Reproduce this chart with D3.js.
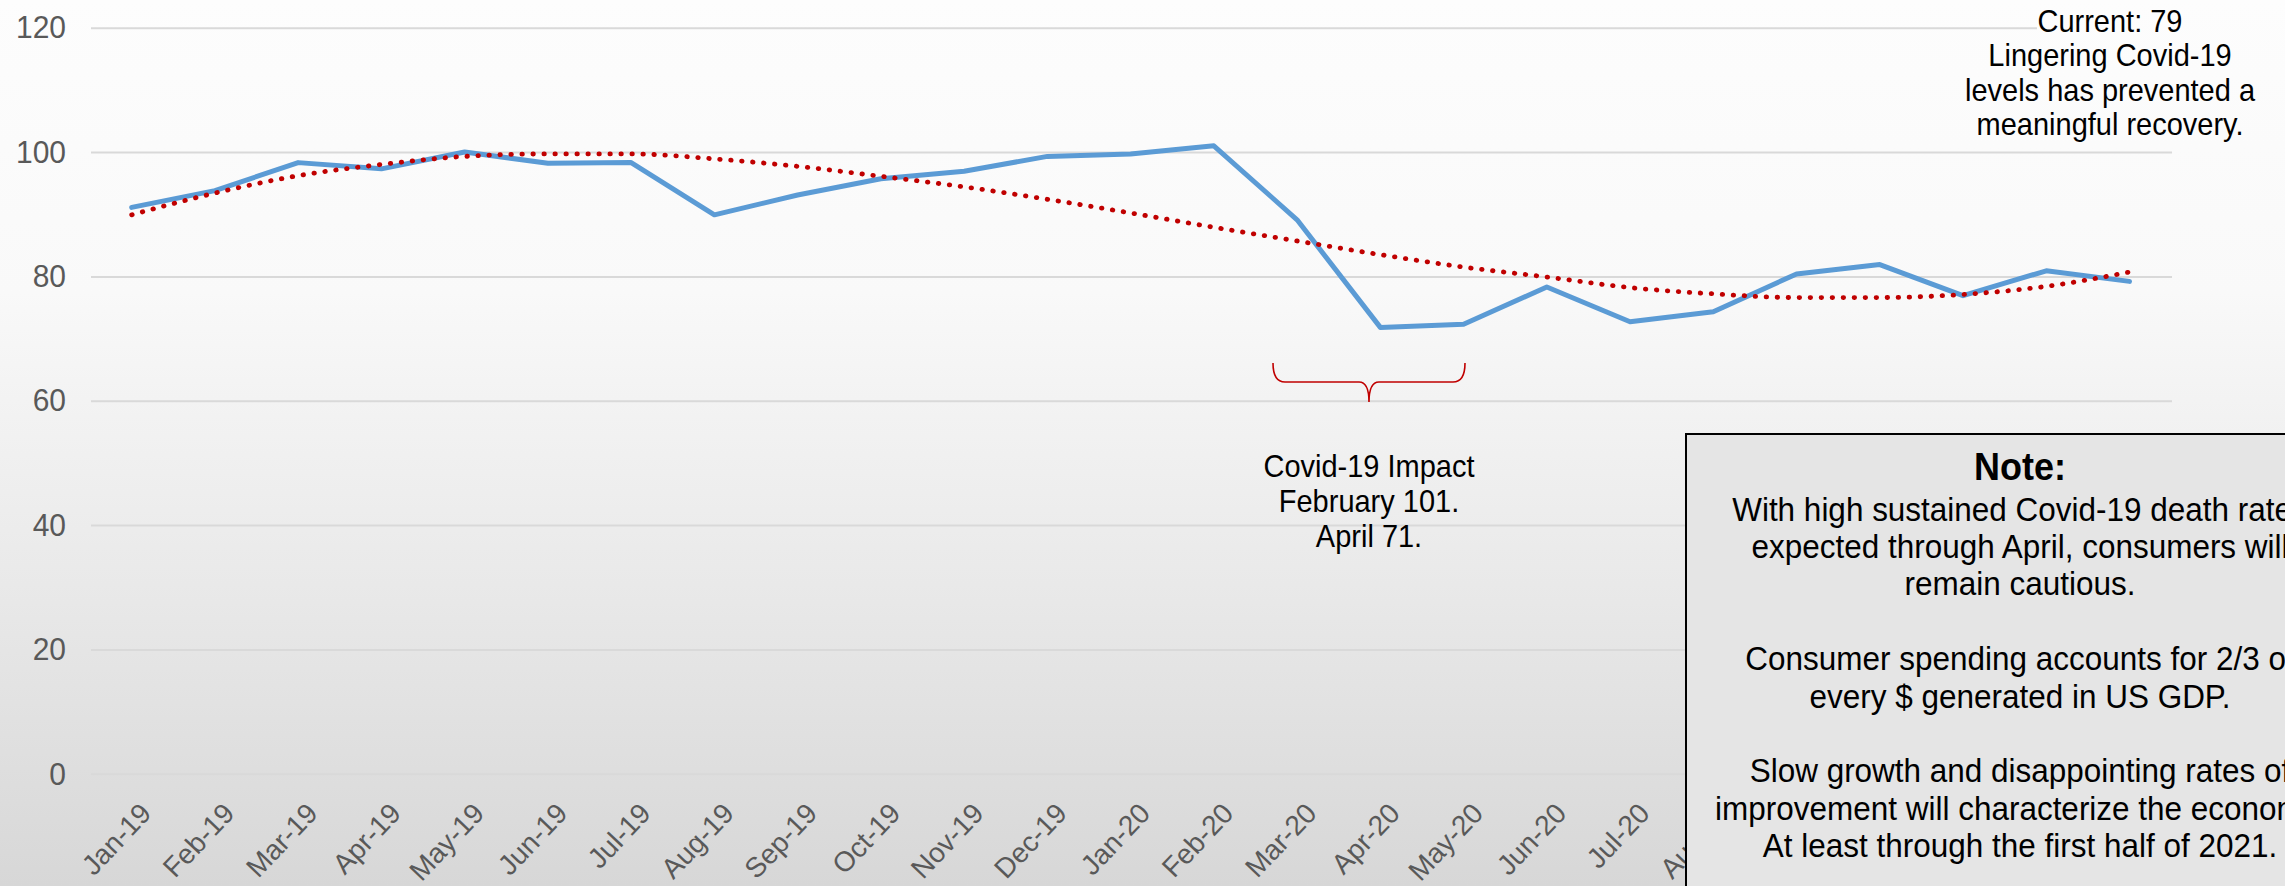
<!DOCTYPE html>
<html>
<head>
<meta charset="utf-8">
<script src="https://cdn.jsdelivr.net/npm/d3@7"></script>
<style>
  html, body { margin: 0; padding: 0; background: #ffffff; }
  svg { display: block; font-family: "Liberation Sans", Arial, Helvetica, sans-serif; }
</style>
</head>
<body>
<svg id="chart" width="2285" height="886"></svg>
<script>
// ---- data ----
const months = ["Jan-19","Feb-19","Mar-19","Apr-19","May-19","Jun-19","Jul-19","Aug-19","Sep-19","Oct-19","Nov-19","Dec-19",
                "Jan-20","Feb-20","Mar-20","Apr-20","May-20","Jun-20","Jul-20","Aug-20","Sep-20","Oct-20","Nov-20","Dec-20","Jan-21"];
const sentiment = [91.1, 93.8, 98.3, 97.3, 100.0, 98.2, 98.3, 89.9, 93.1, 95.7, 96.9, 99.3,
                   99.7, 101.0, 89.1, 71.8, 72.3, 78.3, 72.7, 74.3, 80.4, 81.9, 76.9, 80.9, 79.2];
const trend = [89.9, 93.4, 96.2, 98.0, 99.3, 99.7, 99.7, 98.9, 97.7, 96.1, 94.4, 92.4,
               90.2, 87.9, 85.7, 83.5, 81.5, 79.9, 78.2, 77.2, 76.6, 76.6, 77.1, 78.4, 80.7];
const yTicks = [0, 20, 40, 60, 80, 100, 120];

const currentNote = ["Current: 79", "Lingering Covid-19", "levels has prevented a", "meaningful recovery."];
const impactNote = ["Covid-19 Impact", "February 101.", "April 71."];
const noteTitle = "Note:";
const noteLines = ["With high sustained Covid-19 death rates", "expected through April, consumers will", "remain cautious.", "",
                   "Consumer spending accounts for 2/3 of", "every $ generated in US GDP.", "",
                   "Slow growth and disappointing rates of", "improvement will characterize the economy.",
                   "At least through the first half of 2021."];

// ---- layout ----
const W = 2285, H = 886;
const SY = 1.065; // vertical glyph stretch seen in the reference
const svg = d3.select("#chart");

const defs = svg.append("defs");
const grad = defs.append("linearGradient").attr("id", "bg")
  .attr("gradientUnits", "userSpaceOnUse").attr("x1", 0).attr("y1", 0).attr("x2", 0).attr("y2", H);
[[0, "#fdfdfd"], [0.33, "#f9f9f9"], [0.45, "#f3f3f3"], [0.66, "#e9e9e9"], [1, "#d7d7d7"]]
  .forEach(([o, c]) => grad.append("stop").attr("offset", o).attr("stop-color", c));

svg.append("rect").attr("width", W).attr("height", H).attr("fill", "url(#bg)");

const x = d3.scalePoint().domain(months).range([131.7, 2129.5]);
const y = d3.scaleLinear().domain([0, 120]).range([773.8, 27.7]);
const gridX0 = 91, gridX1 = 2172;

// gridlines + y labels via axis
const yAxis = d3.axisLeft(y).tickValues(yTicks).tickSize(-(gridX1 - gridX0)).tickPadding(25).tickFormat(d3.format("d"));
const gy = svg.append("g").attr("transform", `translate(${gridX0},0)`).call(yAxis);
gy.select(".domain").remove();
gy.selectAll(".tick line").attr("stroke", "#d9d9d9").attr("stroke-width", 2);
gy.selectAll(".tick text").attr("fill", "#595959").attr("font-size", 30)
  .attr("font-family", "'Liberation Sans', Arial, sans-serif")
  .attr("transform", `scale(1,${SY})`);

// x labels
const gx = svg.append("g");
gx.selectAll("text").data(months).join("text")
  .attr("transform", d => `translate(${x(d) + 14},808) rotate(-46.5)`)
  .attr("dy", "0.35em")
  .attr("text-anchor", "end")
  .attr("font-size", 28)
  .attr("fill", "#595959")
  .text(d => d);

// mask behind "Current" text box
svg.append("rect").attr("x", 2037).attr("y", 14).attr("width", 250).attr("height", 26).attr("fill", "url(#bg)");

// series line
const line = d3.line().x((d, i) => x(months[i])).y(d => y(d));
svg.append("path").datum(sentiment)
  .attr("d", line)
  .attr("fill", "none").attr("stroke", "#5b9bd5").attr("stroke-width", 5)
  .attr("stroke-linejoin", "round").attr("stroke-linecap", "round");

// trendline (dotted)
const tline = d3.line().x((d, i) => x(months[i])).y(d => y(d)).curve(d3.curveMonotoneX);
svg.append("path").datum(trend)
  .attr("d", tline)
  .attr("fill", "none").attr("stroke", "#c00000").attr("stroke-width", 4.8)
  .attr("stroke-linecap", "round").attr("stroke-dasharray", "0.5 10.5");

// brace annotation
const bx0 = 1273, bx1 = 1465, bc = 1369, bTop = 363, bMid = 382, bTip = 402;
svg.append("path")
  .attr("d", `M${bx0},${bTop} Q${bx0},${bMid} ${bx0 + 12},${bMid} L${bc - 10},${bMid} Q${bc},${bMid} ${bc},${bTip}
              Q${bc},${bMid} ${bc + 10},${bMid} L${bx1 - 12},${bMid} Q${bx1},${bMid} ${bx1},${bTop}`)
  .attr("fill", "none").attr("stroke", "#c00000").attr("stroke-width", 1.6);

function textBlock(lines, cx, y0, step, size, weight) {
  svg.append("g").selectAll("text").data(lines).join("text")
    .attr("transform", (d, i) => `translate(${cx},${y0 + i * step}) scale(1,${SY})`)
    .attr("text-anchor", "middle").attr("font-size", size).attr("font-weight", weight || "normal")
    .attr("fill", "#000")
    .text(d => d);
}

textBlock(impactNote, 1369, 477, 35, 29);
textBlock(currentNote, 2110, 32, 34.3, 29);

// note box
svg.append("rect").attr("x", 1686).attr("y", 434).attr("width", 668).attr("height", 520)
  .attr("fill", "#e5e5e5").attr("stroke", "#000").attr("stroke-width", 2);
textBlock([noteTitle], 2020, 480, 0, 36, "bold");
textBlock(noteLines, 2020, 520.5, 37.4, 31.5);
</script>
</body>
</html>
